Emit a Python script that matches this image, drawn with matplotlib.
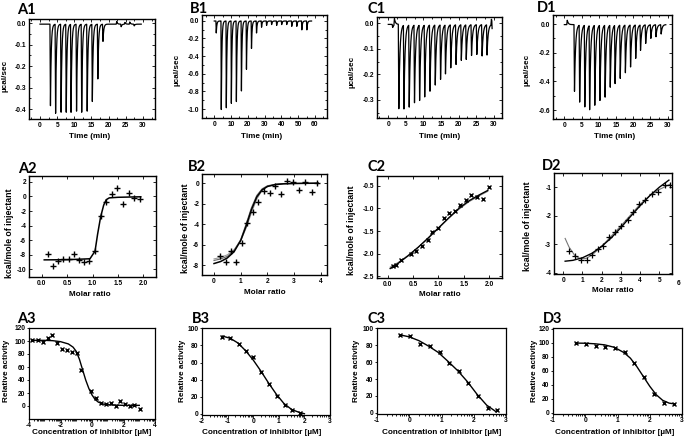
import numpy as np
import matplotlib
matplotlib.use("Agg")
import matplotlib.pyplot as plt
from matplotlib.ticker import AutoMinorLocator, FixedLocator, FormatStrFormatter
import matplotlib.transforms as mtransforms

plt.rcParams['font.family'] = ['Liberation Sans', 'DejaVu Sans']
plt.rcParams['font.weight'] = 'bold'
plt.rcParams['axes.unicode_minus'] = False

# ---------------- Row 1: raw ITC thermograms (injection time, peak height) ----
a1_times = [2.9, 4.4, 6.0, 7.5, 8.9, 10.5, 12.0, 13.6, 15.1, 16.7, 18.2,
            22.2, 23.5, 24.6, 26.0, 27.3]
a1_peaks = [-0.38, -0.415, -0.41, -0.41, -0.41, -0.405, -0.41, -0.405, -0.36,
            -0.255, -0.08, 0.012, -0.012, 0.008, 0.01, -0.008]

b1_times = [1, 4, 7, 10, 13, 16, 19, 22, 25, 28, 31, 34, 37, 40, 43, 46, 49, 52, 55]
b1_peaks = [-0.135, -1.0, -0.98, -0.93, -0.91, -0.79, -0.545, -0.31, -0.135,
            -0.07, -0.05, -0.04, -0.05, -0.04, -0.04, -0.06, -0.06, -0.1, -0.1]

c1_times = [1.1, 1.6, 2.85, 4.3, 5.8, 7.3, 8.75, 10.2, 11.7, 13.2, 14.7, 16.1,
            17.6, 19.1, 20.6, 22.0, 23.5, 25.0, 26.5, 27.9, 29.15, 29.4]
c1_peaks = [-0.012, 0.025, -0.331, -0.329, -0.322, -0.305, -0.296, -0.282, -0.26,
            -0.236, -0.214, -0.192, -0.169, -0.156, -0.14, -0.136, -0.121,
            -0.117, -0.123, -0.119, 0.022, -0.045]

d1_times = [0.7, 2.8, 4.3, 5.8, 7.2, 8.7, 10.2, 11.7, 13.2, 14.6, 16.1, 17.6,
            19.1, 20.6, 22.0, 23.5, 25.0, 26.5, 28.0]
d1_peaks = [0.03, -0.465, -0.537, -0.57, -0.588, -0.558, -0.525, -0.502, -0.433,
            -0.407, -0.372, -0.333, -0.293, -0.233, -0.177, -0.13, -0.095,
            -0.084, -0.065]

# ---------------- Row 2: integrated heats ----------------
a2_x = [0.13, 0.22, 0.32, 0.42, 0.53, 0.63, 0.73, 0.84, 0.94, 1.05, 1.16, 1.27,
        1.38, 1.48, 1.60, 1.71, 1.81, 1.94]
a2_y = [-7.9, -9.6, -8.9, -8.6, -8.6, -7.95, -8.7, -8.95, -8.9, -7.5, -2.75,
        -0.83, 0.3, 1.2, -1.1, 0.5, -0.2, -0.3]
a2_fit_x = [0.05, 0.5, 0.95, 1.05, 1.10, 1.16, 1.22, 1.27, 1.33, 1.5, 1.95]
a2_fit_y = [-8.7, -8.68, -8.55, -7.5, -5.2, -2.8, -1.2, -0.45, -0.2, -0.12, -0.05]

b2_x = [0.22, 0.43, 0.62, 0.82, 1.04, 1.25, 1.45, 1.66, 1.88, 2.1, 2.3, 2.5,
        2.72, 2.95, 3.2, 3.41, 3.66, 3.85]
b2_y = [-7.1, -7.7, -6.6, -7.7, -5.8, -3.9, -2.8, -1.8, -0.75, -1.0, -0.3,
        -1.05, 0.23, 0.1, -0.7, 0.1, -0.85, 0.0]
b2_fit_x = [0.0, 0.25, 0.5, 0.75, 1.0, 1.2, 1.4, 1.6, 1.8, 2.0, 2.3, 2.6, 3.0, 3.5, 3.9]
b2_fit_y = [-7.85, -7.65, -7.3, -6.7, -5.6, -4.2, -2.6, -1.35, -0.65, -0.32,
            -0.13, -0.06, -0.03, -0.01, 0.0]
b2_fit2_y = [-7.4, -7.25, -7.0, -6.5, -5.6, -4.4, -2.9, -1.55, -0.7, -0.33,
             -0.12, -0.05, -0.02, -0.01, 0.0]
b2_fit3_y = [-7.55, -7.4, -7.15, -6.6, -5.5, -4.0, -2.4, -1.2, -0.55, -0.25,
             -0.1, -0.04, -0.02, -0.01, 0.0]

c2_x = [0.1, 0.16, 0.26, 0.45, 0.56, 0.68, 0.79, 0.88, 0.99, 1.1, 1.2, 1.32,
        1.43, 1.54, 1.64, 1.76, 1.87, 2.0]
c2_y = [-2.28, -2.26, -2.15, -2.0, -1.95, -1.84, -1.69, -1.52, -1.44, -1.2,
        -1.1, -1.05, -0.92, -0.81, -0.71, -0.74, -0.79, -0.53]
c2_fit_x = [0.05, 0.2, 0.4, 0.6, 0.8, 1.0, 1.2, 1.4, 1.6, 1.8, 1.97]
c2_fit_y = [-2.33, -2.22, -2.05, -1.86, -1.65, -1.43, -1.21, -1.0, -0.83, -0.7, -0.6]
c2_fit2_y = [-2.3, -2.2, -2.04, -1.86, -1.66, -1.44, -1.22, -1.02, -0.85, -0.72, -0.62]

d2_x = [0.3, 0.61, 0.9, 1.22, 1.51, 1.79, 2.08, 2.4, 2.69, 3.0, 3.35, 3.65,
        3.94, 4.26, 4.6, 4.95, 5.3, 5.55]
d2_y = [-3.24, -3.43, -3.55, -3.55, -3.39, -3.16, -3.07, -2.75, -2.56, -2.36,
        -2.14, -1.88, -1.59, -1.45, -1.25, -1.17, -0.91, -0.93]
d2_fit_x = [0.1, 0.5, 1.0, 1.5, 2.0, 2.5, 3.0, 3.5, 4.0, 4.5, 5.0, 5.5]
d2_fit_y = [-3.6, -3.57, -3.48, -3.32, -3.08, -2.78, -2.42, -2.03, -1.65, -1.3, -1.0, -0.75]
d2_fit2_x = [0.1, 0.3, 0.6, 0.9, 1.2, 1.5, 2.0, 2.5, 3.0, 3.5, 4.0, 4.5, 5.0, 5.55]
d2_fit2_y = [-2.8, -3.1, -3.4, -3.52, -3.5, -3.38, -3.08, -2.72, -2.36, -1.98,
             -1.6, -1.3, -1.08, -0.9]

# ---------------- Row 3: dose-response (log concentration, % activity) ------
a3_x = [-3.78, -3.46, -3.14, -2.82, -2.52, -2.2, -1.92, -1.6, -1.28, -0.96,
        -0.68, -0.06, 0.28, 0.54, 0.88, 1.18, 1.5, 1.78, 2.08, 2.4, 2.68, 3.04]
a3_y = [102.3, 100.8, 98.3, 104.9, 110, 97.3, 88.2, 85.7, 83.2, 82.2, 55.5,
        22.7, 11.6, 4, 2.5, 4, 0, 8, 2.5, 0, 1, -5]
a3_fit_x = [-3.8, -3.0, -2.5, -2.0, -1.5, -1.2, -1.0, -0.8, -0.6, -0.4, -0.2,
            0.0, 0.2, 0.4, 0.7, 1.0, 1.5, 2.0, 3.0]
a3_fit_y = [101, 101, 100.5, 99, 95.5, 90.5, 84, 72, 56, 40, 27, 17, 10, 6, 3,
            2, 1.3, 1, 1]

b3_x = [-1.2, -0.9, -0.57, -0.27, -0.01, 0.31, 0.62, 0.92, 1.25, 1.53, 1.83]
b3_y = [90.5, 89.3, 81.3, 73.4, 66.7, 48.4, 35.3, 21, 9.9, 4.8, 1.2]
b3_fit_x = [-1.2, -0.9, -0.6, -0.3, 0.0, 0.3, 0.6, 0.9, 1.2, 1.5, 1.8, 2.0]
b3_fit_y = [91, 88.5, 83, 74, 63, 50, 36, 23, 12, 5, 1.5, 0]

c3_x = [-0.28, 0.03, 0.33, 0.64, 0.94, 1.23, 1.53, 1.83, 2.13, 2.44, 2.73]
c3_y = [92.5, 91.3, 81.3, 78.6, 72.6, 59.5, 49.6, 35.3, 19.8, 6, 2.8]
c3_fit_x = [-0.3, 0.0, 0.3, 0.6, 0.9, 1.2, 1.5, 1.8, 2.1, 2.4, 2.7]
c3_fit_y = [92.5, 90, 85.5, 79, 71.5, 61, 50, 37, 22, 9, 1]

d3_x = [-0.29, 0.02, 0.32, 0.62, 0.93, 1.23, 1.52, 1.83, 2.13, 2.44, 2.74]
d3_y = [100.2, 98.8, 95, 94.1, 91.8, 87, 71.5, 50.8, 27.3, 13.6, 12.7]
d3_fit_x = [-0.3, 0.0, 0.3, 0.6, 0.9, 1.2, 1.4, 1.6, 1.8, 2.0, 2.2, 2.4, 2.6, 2.75]
d3_fit_y = [99.5, 99.3, 98.5, 97, 93.5, 86, 78, 66, 52, 38, 26, 18, 14, 13]

# ---------------- figure ----------------
W, H = 685, 437
fig = plt.figure(figsize=(6.85, 4.37), dpi=100)

TICK_FS = 4.8
LAB_FS = 5.9
PANEL_FONT = ['Lato', 'Open Sans', 'DejaVu Sans']


def add_ax(l, t, r, b):
    return fig.add_axes([l / W, 1 - b / H, (r - l) / W, (b - t) / H])


def ftext(x, y, s, **kw):
    fig.text(x / W, 1 - y / H, s, **kw)


def style_origin(ax):
    for sp in ax.spines.values():
        sp.set_linewidth(1.0)
    ax.tick_params(which='both', direction='in', top=True, right=True,
                   labelsize=TICK_FS, width=0.6, pad=2)
    ax.tick_params(which='major', length=2.2)
    ax.tick_params(which='minor', length=1.2)


def style_prism(ax):
    for sp in ax.spines.values():
        sp.set_linewidth(0.9)
    ax.tick_params(which='both', direction='out', labelsize=TICK_FS, width=0.6, pad=0.6)
    ax.tick_params(which='major', length=1.8)
    ax.tick_params(which='minor', length=1.1)


def thermogram(t, times, peaks, rise, tau):
    y = np.zeros_like(t)
    for t0, h in zip(times, peaks):
        u = t - t0
        s = np.where(u < 0, 0.0, np.where(u < rise, u / rise,
                                          np.exp(-(u - rise) / tau)))
        y += h * s
    return y


# ---- Row 1 ----
row1 = [
    (add_ax(29, 19, 155, 119), a1_times, a1_peaks, 29.5, 0.15, 0.22,
     (-3.2, 33.5), (-0.446, 0.02), np.arange(0, 31, 5), [0.0, -0.1, -0.2, -0.3, -0.4]),
    (add_ax(202, 15, 327, 118), b1_times, b1_peaks, 58.0, 0.2, 0.35,
     (-7.3, 67.2), (-1.10, 0.064), np.arange(0, 61, 10), [0.0, -0.2, -0.4, -0.6, -0.8, -1.0]),
    (add_ax(377, 17, 502, 118), c1_times, c1_peaks, 29.5, 0.15, 0.3,
     (-3.2, 32.3), (-0.371, 0.025), np.arange(0, 31, 5), [0.0, -0.1, -0.2, -0.3]),
    (add_ax(553, 15, 672, 119), d1_times, d1_peaks, 29.5, 0.15, 0.3,
     (-3.3, 31.3), (-0.662, 0.063), np.arange(0, 31, 5), [0.0, -0.2, -0.4, -0.6]),
]
for ax, tms, pks, tend, rise, tau, xl, yl, xt, yt in row1:
    t = np.arange(0, tend, 0.01)
    ax.plot(t, thermogram(t, tms, pks, rise, tau) - 0.004, color='black', lw=0.9)
    ax.set_xlim(*xl)
    ax.set_ylim(*yl)
    ax.set_xticks(xt)
    ax.set_yticks(yt)
    ax.yaxis.set_major_formatter(FormatStrFormatter('%.1f'))
    ax.xaxis.set_minor_locator(AutoMinorLocator(2))
    ax.yaxis.set_minor_locator(AutoMinorLocator(2))
    style_origin(ax)

for x, y in [(90, 137), (262, 137), (440, 137), (615, 137)]:
    ftext(x, y, 'Time (min)', fontsize=LAB_FS, ha='center', va='center', fontweight='bold')
for x, y in [(5, 76), (177, 70), (352, 72), (527, 70)]:
    ftext(x, y, 'µcal/sec', fontsize=LAB_FS, ha='center', va='center',
          rotation=90, fontweight='bold')

# ---- Row 2 ----
ax = add_ax(29, 176, 156, 277)
ax.plot(a2_fit_x, a2_fit_y, color='black', lw=1.1)
ax.plot(a2_x, a2_y, '+', color='black', ms=5, mew=1.0)
ax.set_xlim(-0.25, 2.25)
ax.set_ylim(-11.05, 2.8)
ax.set_xticks([0, 0.5, 1.0, 1.5, 2.0])
ax.xaxis.set_major_formatter(FormatStrFormatter('%.1f'))
ax.set_yticks(np.arange(-10, 3, 2))
style_origin(ax)

ax = add_ax(202, 174, 327, 275)
ax.plot(b2_fit_x, b2_fit2_y, color='#999999', lw=0.8)
ax.plot(b2_fit_x, b2_fit3_y, color='#666666', lw=0.8)
ax.plot(b2_fit_x, b2_fit_y, color='black', lw=1.1)
ax.plot(b2_x, b2_y, '+', color='black', ms=5, mew=1.0)
ax.set_xlim(-0.45, 4.23)
ax.set_ylim(-8.97, 0.9)
ax.set_xticks(range(5))
ax.set_yticks([0, -2, -4, -6, -8])
style_origin(ax)

ax = add_ax(377, 176, 502, 278)
ax.plot(c2_fit_x, c2_fit2_y, color='#888888', lw=0.8)
ax.plot(c2_fit_x, c2_fit_y, color='black', lw=1.0)
ax.plot(c2_x, c2_y, 'x', color='black', ms=3.5, mew=1.0)
ax.set_xlim(-0.21, 2.25)
ax.set_ylim(-2.54, -0.28)
ax.set_xticks([0, 0.5, 1.0, 1.5, 2.0])
ax.xaxis.set_major_formatter(FormatStrFormatter('%.1f'))
ax.set_yticks([-0.5, -1.0, -1.5, -2.0, -2.5])
ax.yaxis.set_major_formatter(FormatStrFormatter('%.1f'))
style_origin(ax)

ax = add_ax(554, 173, 672, 274)
ax.plot(d2_fit2_x, d2_fit2_y, color='#777777', lw=0.8)
ax.plot(d2_fit_x, d2_fit_y, color='black', lw=1.0)
ax.plot(d2_x, d2_y, '+', color='black', ms=4.5, mew=0.9)
ax.set_xlim(-0.48, 5.66)
ax.set_ylim(-4.05, -0.5)
ax.set_xticks(range(6))
ax.set_yticks([-1, -2, -3, -4])
style_origin(ax)
trans = mtransforms.blended_transform_factory(ax.transData, ax.transAxes)
ax.text(6, -0.055, '6', transform=trans, fontsize=TICK_FS, ha='center',
        va='top', fontweight='bold', clip_on=False)

for x, y in [(90, 294), (265, 292), (440, 294), (613, 291)]:
    ftext(x, y, 'Molar ratio', fontsize=LAB_FS, ha='center', va='center', fontweight='bold')
for x, y in [(10, 233), (186, 228), (351, 230), (527, 226)]:
    ftext(x, y, 'kcal/mole of injectant', fontsize=6.3, ha='center', va='center',
          rotation=90, fontweight='bold')

# ---- Row 3 ----
row3 = [
    (add_ax(29, 328, 155, 419), a3_x, a3_y, a3_fit_x, a3_fit_y,
     (-4, 4), (-20, 120), [-4, -2, 0, 2, 4], np.arange(0, 121, 20), (-4, 4)),
    (add_ax(202, 328, 330, 415), b3_x, b3_y, b3_fit_x, b3_fit_y,
     (-2, 3), (-1.5, 100.5), range(-2, 4), np.arange(0, 101, 20), (-2, 3)),
    (add_ax(377, 328, 506, 414), c3_x, c3_y, c3_fit_x, c3_fit_y,
     (-1, 3), (-1.5, 100.5), range(-1, 4), np.arange(0, 101, 20), (-1, 3)),
    (add_ax(553, 328, 682, 414), d3_x, d3_y, d3_fit_x, d3_fit_y,
     (-1, 3), (-1.5, 121), range(-1, 4), np.arange(0, 121, 20), (-1, 3)),
]
for ax, px, py, fx, fy, xl, yl, xt, yt, dec in row3:
    ax.plot(fx, fy, color='black', lw=1.0)
    ax.plot(px, py, 'x', color='black', ms=3.2, mew=1.0)
    ax.set_xlim(*xl)
    ax.set_ylim(*yl)
    ax.set_xticks(list(xt))
    ax.set_yticks(yt)
    minors = [d + np.log10(k) for d in range(dec[0], dec[1]) for k in range(2, 10)]
    ax.xaxis.set_minor_locator(FixedLocator(minors))
    style_prism(ax)

for x in [92, 262, 442, 615]:
    ftext(x, 433, 'Concentration of inhibitor [µM]', fontsize=LAB_FS,
          ha='center', va='center', fontweight='bold')
for x, y in [(7, 371), (182, 371), (357, 371), (535, 371)]:
    ftext(x, y, 'Relative activity', fontsize=LAB_FS, ha='center', va='center',
          rotation=90, fontweight='bold')

# ---- panel labels ----
panels = [('A1', 17, 14), ('B1', 190, 13), ('C1', 367, 13), ('D1', 537, 12),
          ('A2', 18, 173), ('B2', 188, 171), ('C2', 367, 171), ('D2', 542, 170),
          ('A3', 17, 323), ('B3', 192, 323), ('C3', 368, 323), ('D3', 543, 323)]
for s, x, y in panels:
    ftext(x, y, s, fontsize=10.5, ha='left', va='baseline', fontweight='bold',
          family=PANEL_FONT)

fig.savefig('out.png', dpi=100)
